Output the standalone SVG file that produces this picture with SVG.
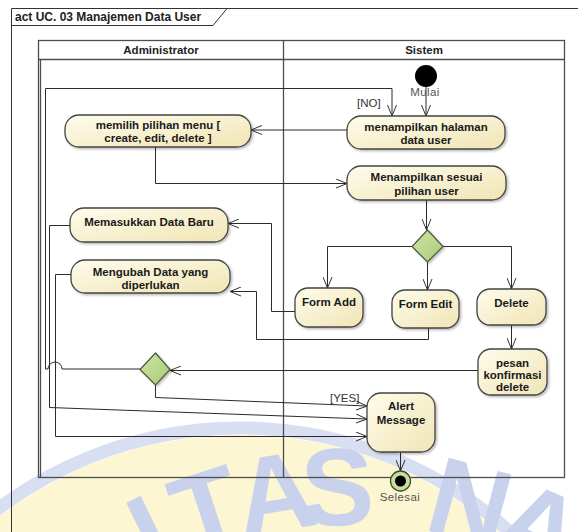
<svg xmlns="http://www.w3.org/2000/svg" width="578" height="532" viewBox="0 0 578 532">
  <defs>
    <linearGradient id="nodeFill" x1="0" y1="0" x2="1" y2="1">
      <stop offset="0" stop-color="#fefcec"/>
      <stop offset="1" stop-color="#f1e5b5"/>
    </linearGradient>
    <linearGradient id="decFill" x1="0" y1="0" x2="1" y2="1">
      <stop offset="0" stop-color="#cfe3a6"/>
      <stop offset="1" stop-color="#a9cc78"/>
    </linearGradient>
    <filter id="shadow" x="-20%" y="-20%" width="140%" height="140%">
      <feDropShadow dx="1.5" dy="1.5" stdDeviation="1" flood-color="#000" flood-opacity="0.28"/>
    </filter>
    <marker id="arr" viewBox="0 0 12 10" refX="11" refY="5" markerWidth="12" markerHeight="10" orient="auto" markerUnits="userSpaceOnUse">
      <path d="M0,0.5 L11,5 L0,9.5" fill="none" stroke="#333" stroke-width="1"/>
    </marker>
  </defs>
  <style>
    .frame { fill: none; stroke: #333; stroke-width: 1; }
    .lane { fill: none; stroke: #4d4d4d; stroke-width: 1.3; }
    .node rect { fill: url(#nodeFill); stroke: #444; stroke-width: 1.3; filter: url(#shadow); }
    .dec { fill: url(#decFill); stroke: #4a5a3a; stroke-width: 1.2; filter: url(#shadow); }
    .lbl { font-family: "Liberation Sans", Arial, sans-serif; font-weight: bold; font-size: 11.5px; fill: #1a1a1a; text-anchor: middle; }
    .hdr { font-family: "Liberation Sans", Arial, sans-serif; font-weight: bold; font-size: 11.5px; fill: #222; text-anchor: middle; }
    .title { font-family: "Liberation Sans", Arial, sans-serif; font-weight: bold; font-size: 12px; fill: #222; }
    .guard { font-family: "Liberation Sans", Arial, sans-serif; font-size: 11.5px; fill: #333; }
    .cap { font-family: "Liberation Sans", Arial, sans-serif; font-size: 11.5px; fill: #555; text-anchor: middle; letter-spacing: 0.4px; }
    .conn path { fill: none; stroke: #2b2b2b; stroke-width: 1; }
    .wm { font-family: "Liberation Sans", Arial, sans-serif; font-weight: bold; font-size: 110px; fill: #c9d2ed; text-anchor: middle; }
  </style>

  <!-- page background -->
  <rect x="0" y="0" width="578" height="532" fill="#ffffff"/>

  <!-- faint seal in the background: ring plus letters set along an arc -->
  <g id="seal">
    <circle cx="240" cy="830" r="402" fill="none" stroke="#d9dff2" stroke-width="13"/>
    <circle cx="240" cy="830" r="395" fill="#fdf6d3"/>
    <text class="wm" transform="translate(166.6,567.4) rotate(-25.9)">I</text>
    <text class="wm" transform="translate(219,546.1) rotate(-18.2)">T</text>
    <text class="wm" transform="translate(281.3,530.8) rotate(-9.5)">A</text>
    <text class="wm" transform="translate(338.3,525.2) rotate(-1.7)">S</text>
    <text class="wm" transform="translate(460.3,539.4) rotate(15)">N</text>
    <text class="wm" transform="translate(524.2,562.2) rotate(24.2)">A</text>
  </g>

  <!-- diagram frame and title tab -->
  <g id="frame">
    <path class="frame" d="M11.5,532 V8.5 H578"/>
    <path class="frame" d="M11.5,25.5 H213 L227,8.5"/>
    <text class="title" x="15" y="21">act UC. 03 Manajemen Data User</text>
  </g>

  <!-- swimlanes -->
  <g id="lanes">
    <rect class="lane" x="38.5" y="40.5" width="526" height="437"/>
    <line class="lane" x1="38.5" y1="59.5" x2="564.5" y2="59.5"/>
    <line class="lane" x1="40.5" y1="59.5" x2="40.5" y2="477.5" stroke-width="1"/>
    <line class="lane" x1="283.5" y1="40.5" x2="283.5" y2="477.5"/>
    <text class="hdr" x="161" y="53.5">Administrator</text>
    <text class="hdr" x="424" y="53.5">Sistem</text>
  </g>

  <!-- control flows -->
  <g id="connectors" class="conn">
    <path d="M426,87 V116" marker-end="url(#arr)"/>
    <path d="M140,369 H62 A7,7 0 0 0 48,369 H45.5 V88.5 H392 V116" marker-end="url(#arr)"/>
    <path d="M347,130 H251" marker-end="url(#arr)"/>
    <path d="M155.5,147 V183.5 H347" marker-end="url(#arr)"/>
    <path d="M426.5,200 V230" marker-end="url(#arr)"/>
    <path d="M412,246.5 H327.5 V288" marker-end="url(#arr)"/>
    <path d="M427.5,262 V290" marker-end="url(#arr)"/>
    <path d="M443,246.5 H511.5 V289" marker-end="url(#arr)"/>
    <path d="M511.5,325 V349" marker-end="url(#arr)"/>
    <path d="M478,370.5 H170" marker-end="url(#arr)"/>
    <path d="M295,311.5 H271.5 V223.5 H228" marker-end="url(#arr)"/>
    <path d="M428.5,328 V339.5 H256.5 V291.5 H230" marker-end="url(#arr)"/>
    <path d="M70,225.5 H49.5 V407.5 L367,419" marker-end="url(#arr)"/>
    <path d="M71,274.5 H55.5 V436.5 H367" marker-end="url(#arr)"/>
    <path d="M155.5,385 V397.5 L367,406" marker-end="url(#arr)"/>
    <path d="M400.5,452 V471" marker-end="url(#arr)"/>
  </g>

  <!-- guard labels -->
  <text class="guard" x="357" y="107">[NO]</text>
  <text class="guard" x="330" y="402">[YES]</text>

  <!-- initial node -->
  <g id="start">
    <circle cx="426" cy="76" r="11" fill="#000"/>
    <text class="cap" x="425" y="96">Mulai</text>
  </g>

  <g id="n-memilih" class="node">
    <rect x="65" y="115" width="186" height="32" rx="14"/>
    <text class="lbl" x="158" y="129">memilih pilihan menu [</text>
    <text class="lbl" x="158" y="142">create, edit, delete ]</text>
  </g>

  <g id="n-halaman" class="node">
    <rect x="347" y="116" width="158" height="33" rx="14"/>
    <text class="lbl" x="426" y="131">menampilkan halaman</text>
    <text class="lbl" x="426" y="144">data user</text>
  </g>

  <g id="n-sesuai" class="node">
    <rect x="347" y="166" width="159" height="34" rx="14"/>
    <text class="lbl" x="426.5" y="181">Menampilkan sesuai</text>
    <text class="lbl" x="426.5" y="195">pilihan user</text>
  </g>

  <g id="d-pilihan">
    <polygon class="dec" points="427.5,230 443,246.5 427.5,262 412,246.5"/>
  </g>

  <g id="n-memasukkan" class="node">
    <rect x="70" y="208" width="158" height="34" rx="14"/>
    <text class="lbl" x="149" y="226">Memasukkan Data Baru</text>
  </g>

  <g id="n-mengubah" class="node">
    <rect x="71" y="260" width="159" height="33" rx="14"/>
    <text class="lbl" x="150.5" y="276">Mengubah Data yang</text>
    <text class="lbl" x="150.5" y="289">diperlukan</text>
  </g>

  <g id="n-formadd" class="node">
    <rect x="295" y="288" width="68" height="39" rx="13"/>
    <text class="lbl" x="329" y="306">Form Add</text>
  </g>

  <g id="n-formedit" class="node">
    <rect x="392" y="290" width="67" height="38" rx="13"/>
    <text class="lbl" x="425.5" y="308">Form Edit</text>
  </g>

  <g id="n-delete" class="node">
    <rect x="477" y="289" width="69" height="36" rx="13"/>
    <text class="lbl" x="511.5" y="307">Delete</text>
  </g>

  <g id="n-pesan" class="node">
    <rect x="478" y="349" width="69" height="46" rx="13"/>
    <text class="lbl" x="512.5" y="367">pesan</text>
    <text class="lbl" x="512.5" y="379">konfirmasi</text>
    <text class="lbl" x="512.5" y="391">delete</text>
  </g>

  <g id="d-konfirmasi">
    <polygon class="dec" points="155.5,353 170,369.5 155.5,385 140,369.5"/>
  </g>

  <g id="n-alert" class="node">
    <rect x="367" y="393" width="68" height="59" rx="14"/>
    <text class="lbl" x="401" y="410">Alert</text>
    <text class="lbl" x="401" y="424">Message</text>
  </g>

  <!-- final node -->
  <g id="end">
    <circle cx="400.5" cy="481" r="10" fill="#c6dea0" stroke="#3d4a30" stroke-width="1.3"/>
    <circle cx="400.5" cy="481" r="5.5" fill="#000"/>
    <text class="cap" x="400" y="501">Selesai</text>
  </g>
</svg>
